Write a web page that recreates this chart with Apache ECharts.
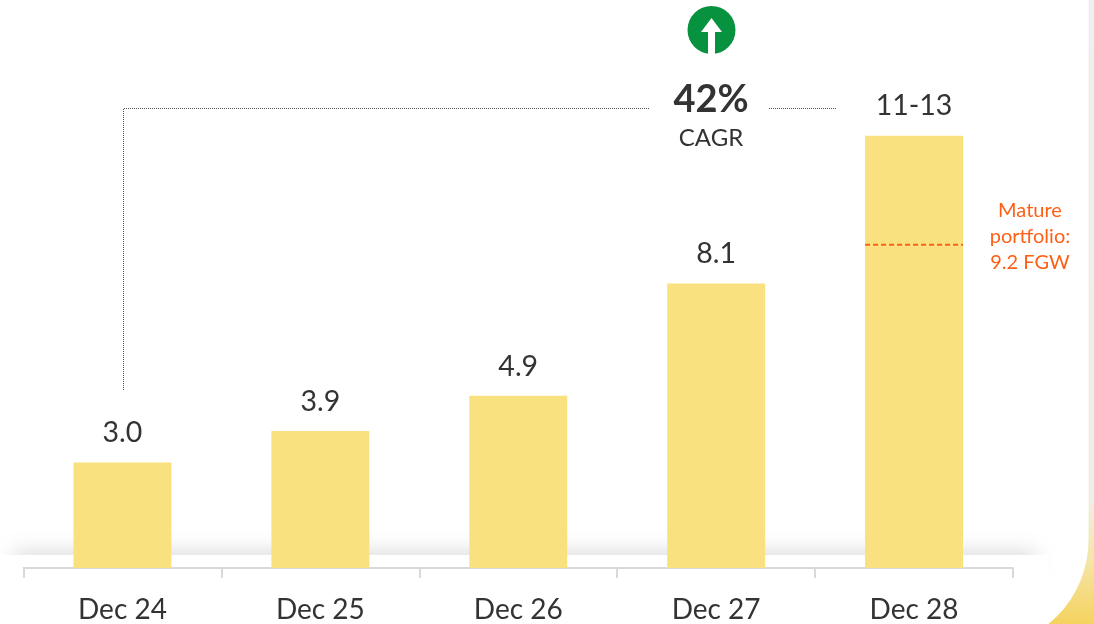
<!DOCTYPE html>
<html>
<head>
<meta charset="utf-8">
<style>
  html, body { margin: 0; padding: 0; background: #fff; }
  #chart { width: 1094px; height: 624px; }
</style>
<script src="https://cdn.jsdelivr.net/npm/echarts@6/dist/echarts.min.js"></script>
</head>
<body>
<div id="chart"></div>
<script>
const categories = ['Dec 24', 'Dec 25', 'Dec 26', 'Dec 27', 'Dec 28']
// Dec 28 is a range (11-13), the bar itself stands a bit above the middle
const values = [3.0, 3.9, 4.9, 8.1, 12.3]
const valueLabels = ['3.0', '3.9', '4.9', '8.1', '11-13']
const maturePortfolio = 9.2
const matureLines = ['Mature', 'portfolio:', '9.2 FGW']
const cagrValue = '42%'
const cagrText = 'CAGR'

const FONT = 'Lato, "Open Sans", sans-serif'
const TEXT = '#333333'
const ORANGE = '#FF5F15'

const chart = echarts.init(document.getElementById('chart'), null, { renderer: 'canvas' })

// Decoration behind the plot: page corner, floor shadow
const backdrop = [
    {
        type: 'rect',
        z: -10,
        shape: { x: 1040, y: 0, width: 54, height: 624 },
        style: {
            fill: new echarts.graphic.LinearGradient(0, 0, 0, 1, [
                { offset: 0, color: '#EFEFEF' },
                { offset: 0.8, color: '#F0EEE6' },
                { offset: 0.9, color: '#F5E4A5' },
                { offset: 1, color: '#F5D35F' }
            ])
        }
    },
    {
        type: 'rect',
        z: -9,
        shape: { x: -60, y: -60, width: 1148.5, height: 708, r: [0, 0, 108, 0] },
        style: { fill: '#fff' }
    },
    {
        type: 'rect',
        z: -8,
        shape: { x: 15, y: 556, width: 1020, height: 6 },
        style: { fill: '#bbb', shadowBlur: 20, shadowColor: 'rgba(0,0,0,0.38)' }
    },
    {
        type: 'rect',
        z: -7,
        shape: { x: 0, y: 555, width: 1048, height: 30 },
        style: { fill: '#fff' }
    }
]

// CAGR bracket and badge
const dotted = { stroke: '#555', lineWidth: 1, lineDash: [1, 1], fill: null }
const annotations = [
    {
        type: 'polyline',
        z: 10,
        shape: { points: [[123.5, 390], [123.5, 108.5], [650, 108.5]] },
        style: dotted
    },
    {
        type: 'line',
        z: 10,
        shape: { x1: 769, y1: 108.5, x2: 836, y2: 108.5 },
        style: dotted
    },
    { type: 'circle', z: 10, shape: { cx: 711.5, cy: 30, r: 24 }, style: { fill: '#07923F' } },
    {
        type: 'polygon',
        z: 11,
        shape: {
            points: [[711.5, 18], [722, 32], [715, 32], [715, 55], [708, 55], [708, 32], [701, 32]]
        },
        style: { fill: '#fff' }
    },
    {
        type: 'text',
        z: 10,
        x: 711,
        y: 100,
        style: { text: cagrValue, font: 'bold 38px ' + FONT, fill: TEXT, align: 'center', verticalAlign: 'middle' }
    },
    {
        type: 'text',
        z: 10,
        x: 711,
        y: 138,
        style: { text: cagrText, font: '24px ' + FONT, fill: TEXT, align: 'center', verticalAlign: 'middle' }
    }
]

const matureTexts = matureLines.map((line, i) => ({
    type: 'text',
    z: 10,
    x: 1030,
    y: 211 + i * 26,
    style: { text: line, font: '20px ' + FONT, fill: ORANGE, align: 'center', verticalAlign: 'middle' }
}))

// Dashed level across the last bar
const renderMature = (params, api) => {
    const center = api.coord([api.value(0), api.value(1)])
    const half = api.size([1, 0])[0] * 0.495 / 2
    return {
        type: 'line',
        z2: 5,
        shape: { x1: center[0] - half, y1: center[1], x2: center[0] + half, y2: center[1] },
        style: { stroke: ORANGE, lineWidth: 2, lineDash: [5, 3] }
    }
}

chart.setOption({
    animation: false,
    backgroundColor: 'transparent',
    graphic: [...backdrop, ...annotations, ...matureTexts],
    grid: { left: 23.5, right: 81, top: 5.8, bottom: 55 },
    xAxis: {
        type: 'category',
        data: categories,
        axisLine: { lineStyle: { color: '#D9D9D9', width: 2 } },
        axisTick: { show: true, length: 10, lineStyle: { color: '#D9D9D9', width: 2 } },
        axisLabel: { color: TEXT, fontFamily: FONT, fontSize: 28, margin: 28 }
    },
    yAxis: { type: 'value', min: 0, max: 16, show: false },
    series: [
        {
            type: 'bar',
            data: values,
            barWidth: '49.5%',
            itemStyle: { color: '#FAE17F' },
            label: {
                show: true,
                position: 'top',
                distance: 15,
                color: TEXT,
                fontFamily: FONT,
                fontSize: 28.5,
                formatter: p => valueLabels[p.dataIndex]
            }
        },
        {
            type: 'custom',
            renderItem: renderMature,
            data: [[categories[4], maturePortfolio]],
            z: 5
        }
    ]
})
</script>
</body>
</html>
